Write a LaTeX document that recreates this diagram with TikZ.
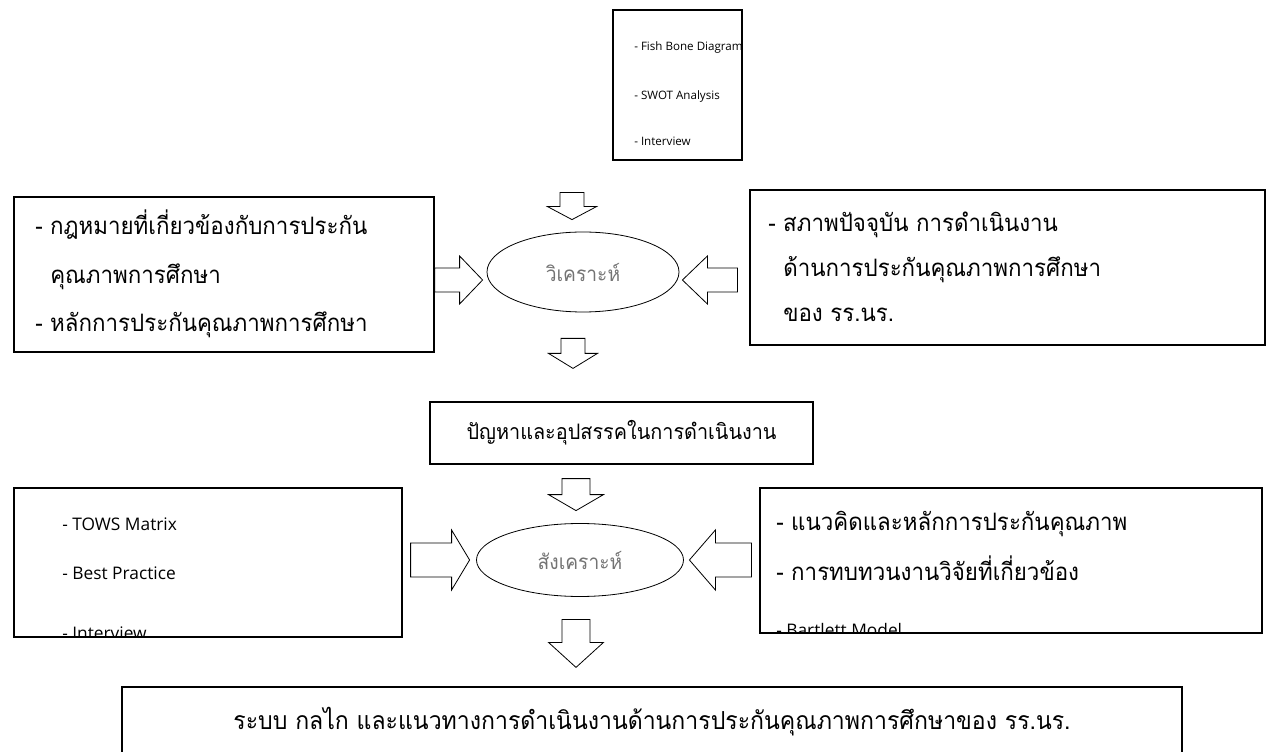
\documentclass[tikz,border=0pt]{standalone}
\usepackage{fontspec}
\setmainfont{Open Sans}
\newfontfamily\thaifont[Script=Thai,FakeStretch=0.93]{Loma}
\usetikzlibrary{calc, shapes.geometric}
\newdimen\px \px=0.75pt

\tikzset{
    box/.style={draw, line width=0.8pt, minimum width=#1, inner sep=0pt},
    ell/.style={draw, ellipse, line width=0.6pt, inner sep=0pt, text=black!55,
        font=\thaifont\fontsize{15.5}{17}\selectfont},
    item/.style={anchor=base west, inner sep=0pt, font=\fontsize{13}{15}\selectfont},
    thaiitem/.style={anchor=base west, inner sep=0pt, font=\thaifont\fontsize{18}{20}\selectfont},
    arrline/.style={draw, fill=white, line width=0.6pt, line join=miter},
    pics/blockarr/.style n args={4}{code={
        \draw[arrline] (-#1/2,-#3) -- ({#1/2-#2},-#3) -- ({#1/2-#2},-#4) -- (#1/2,0)
            -- ({#1/2-#2},#4) -- ({#1/2-#2},#3) -- (-#1/2,#3) -- cycle;
    }}
}

\begin{document}
\begin{tikzpicture}[x=0.75pt, y=-0.75pt]
    \useasboundingbox (0,0) rectangle (1279,752);

    % analysis
    \node[box=129\px, minimum height=150\px] (tools) at (677.5,85) {};
    \node[item, font=\fontsize{8.7}{10}\selectfont] (tools-1) at (634,51) {- Fish Bone Diagram};
    \node[item, font=\fontsize{8.7}{10}\selectfont] (tools-2) at (634,100) {- SWOT Analysis};
    \node[item, font=\fontsize{8.7}{10}\selectfont] (tools-3) at (634,146) {- Interview};

    \node[box=420\px, minimum height=155\px] (law) at (224,274.5) {};
    \node[thaiitem] (law-1) at (35,235) {- กฎหมายที่เกี่ยวข้องกับการประกัน};
    \node[thaiitem] (law-2) at (50,284) {คุณภาพการศึกษา};
    \node[thaiitem] (law-3) at (35,332) {- หลักการประกันคุณภาพการศึกษา};

    \node[box=515\px, minimum height=155\px] (status) at (1007.5,267.5) {};
    \node[thaiitem] (status-1) at (768,232) {- สภาพปัจจุบัน การดำเนินงาน};
    \node[thaiitem] (status-2) at (783,277) {ด้านการประกันคุณภาพการศึกษา};
    \node[thaiitem] (status-3) at (783,322) {ของ รร.นร.};

    \node[ell, minimum width=192\px, minimum height=80\px] (ana) at (583,272) {วิเคราะห์};

    \pic[rotate=-90] at ($(ana.north)+(-11,-25.5)$) {blockarr={27}{13}{12}{24.5}};
    \pic at ($(ana.west)+(-28,8)$) {blockarr={48}{23}{12}{24}};
    \pic[rotate=180] at ($(ana.east)+(30.5,8)$) {blockarr={55}{25}{12}{24}};
    \pic[rotate=-90] at ($(ana.south)+(-10,41)$) {blockarr={30}{15}{12}{24.5}};

    % problems
    \node[box=383\px, minimum height=62\px,
          font=\thaifont\fontsize{16}{18}\selectfont] (prob) at (621.5,433) {ปัญหาและอุปสรรคในการดำเนินงาน};

    % synthesis
    \node[box=388\px, minimum height=149\px] (methods) at (208,562.5) {};
    \begin{scope}
        \clip (methods.south west) rectangle (methods.north east);
        \node[item] (methods-1) at (62,530) {- TOWS Matrix};
        \node[item] (methods-2) at (62,579) {- Best Practice};
        \node[item] (methods-3) at (62,639) {- Interview};
    \end{scope}

    \node[box=502\px, minimum height=145\px] (concept) at (1011,560.5) {};
    \begin{scope}
        \clip (concept.south west) rectangle (concept.north east);
        \node[thaiitem] (concept-1) at (776,530) {- แนวคิดและหลักการประกันคุณภาพ};
        \node[thaiitem] (concept-2) at (776,580) {- การทบทวนงานวิจัยที่เกี่ยวข้อง};
        \node[item] (concept-3) at (776,636) {- Bartlett Model};
    \end{scope}

    \node[ell, minimum width=207\px, minimum height=73\px] (syn) at (580,560) {สังเคราะห์};

    \pic[rotate=-90] at ($(syn.north)+(-4,-28.5)$) {blockarr={32}{16}{14}{27.5}};
    \pic at ($(syn.west)+(-36,0)$) {blockarr={59}{18}{17}{30}};
    \pic[rotate=180] at ($(syn.east)+(36.5,0)$) {blockarr={62}{26}{17}{30}};
    \pic[rotate=-90] at ($(syn.south)+(-4,46.5)$) {blockarr={48}{25}{14}{27.5}};

    % result
    \node[box=1060\px, minimum height=120\px] (result) at (652,747) {};
    \node[anchor=base, inner sep=0pt, font=\thaifont\fontsize{18.6}{20}\selectfont] (result-1) at (652,729)
        {ระบบ กลไก และแนวทางการดำเนินงานด้านการประกันคุณภาพการศึกษาของ รร.นร.};
\end{tikzpicture}
\end{document}
